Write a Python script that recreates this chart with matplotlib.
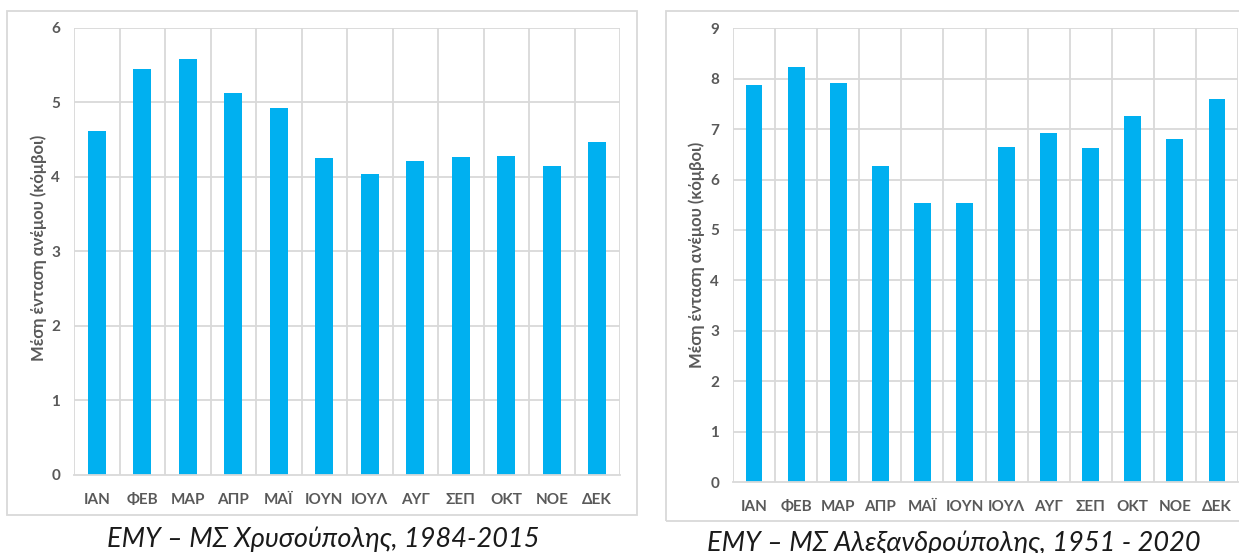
import matplotlib
matplotlib.use("Agg")
import matplotlib.pyplot as plt
from matplotlib.patches import Rectangle
import numpy as np

months = ["ΙΑΝ", "ΦΕΒ", "ΜΑΡ", "ΑΠΡ", "ΜΑΪ", "ΙΟΥΝ", "ΙΟΥΛ", "ΑΥΓ", "ΣΕΠ", "ΟΚΤ", "ΝΟΕ", "ΔΕΚ"]
chrysoupoli = [4.62, 5.45, 5.58, 5.12, 4.92, 4.25, 4.03, 4.21, 4.26, 4.28, 4.15, 4.47]
alexandroupoli = [7.88, 8.24, 7.91, 6.26, 5.54, 5.54, 6.64, 6.92, 6.62, 7.26, 6.80, 7.60]
ylabel = "Μέση ένταση ανέμου (κόμβοι)"
caption_left = "ΕΜΥ – ΜΣ Χρυσούπολης, 1984-2015"
caption_right = "ΕΜΥ – ΜΣ Αλεξανδρούπολης, 1951 - 2020"

W, H = 1239, 553
BAR = "#00B0F0"
GRID = "#D9D9D9"
TXT = "#595959"
FONT = "Lato"

fig = plt.figure(figsize=(W / 100, H / 100), dpi=100)
fig.patch.set_facecolor("white")


def px_axes(x0, y0, x1, y1):
    # pixel box (top-left origin) -> figure fraction
    return fig.add_axes([x0 / W, 1 - y1 / H, (x1 - x0) / W, (y1 - y0) / H])


def frame(x0, y0, x1, y1):
    fig.patches.append(Rectangle((x0 / W, 1 - y1 / H), (x1 - x0) / W, (y1 - y0) / H,
                                 transform=fig.transFigure, fill=False,
                                 edgecolor=GRID, linewidth=1.3, zorder=0))


def draw(ax, values, ymax):
    n = len(values)
    x = np.arange(n)
    ax.bar(x, values, width=0.4, color=BAR, zorder=3)
    ax.set_xlim(-0.5, n - 0.5)
    ax.set_ylim(0, ymax)
    ax.set_yticks(range(0, ymax + 1))
    ax.set_xticks(x)
    ax.set_xticklabels(months)
    # horizontal gridlines at each integer, vertical ones at category borders
    for y in range(1, ymax + 1):
        ax.axhline(y, color=GRID, linewidth=1.3, zorder=1)
    for b in np.arange(-0.5, n, 1.0):
        ax.axvline(b, color=GRID, linewidth=1.3, zorder=1)
    for s in ["top", "right", "left"]:
        ax.spines[s].set_visible(False)
    ax.spines["bottom"].set_color(GRID)
    ax.spines["bottom"].set_linewidth(1.3)
    ax.spines["bottom"].set_zorder(4)
    ax.tick_params(axis="both", length=0, colors=TXT)
    ax.tick_params(axis="y", pad=10)
    ax.tick_params(axis="x", pad=13)
    for lab in ax.get_xticklabels() + ax.get_yticklabels():
        lab.set_fontfamily(FONT)
        lab.set_fontweight("bold")
        lab.set_fontsize(11)
    ax.set_facecolor("white")


frame(7.3, 10.7, 637, 514.5)
frame(665.7, 10.7, 1260, 520.7)

ax1 = px_axes(74, 27.7, 620, 474.7)
draw(ax1, chrysoupoli, 6)
ax2 = px_axes(733, 28.3, 1238, 482)
draw(ax2, alexandroupoli, 9)

fig.text(38.3 / W, 1 - 248 / H, ylabel, rotation=90, ha="center", va="center",
         fontfamily=FONT, fontweight="bold", fontsize=12, color=TXT)
fig.text(697 / W, 1 - 255 / H, ylabel, rotation=90, ha="center", va="center",
         fontfamily=FONT, fontweight="bold", fontsize=12, color=TXT)

fig.text(323.5 / W, 1 - 546.7 / H, caption_left, ha="center", va="baseline",
         fontfamily=FONT, fontstyle="italic", fontweight="normal", fontsize=19.5, color="#1a1a1a")
fig.text(954 / W, 1 - 551 / H, caption_right, ha="center", va="baseline",
         fontfamily=FONT, fontstyle="italic", fontweight="normal", fontsize=19.5, color="#1a1a1a")

fig.savefig("out.png", dpi=100, facecolor="white")
